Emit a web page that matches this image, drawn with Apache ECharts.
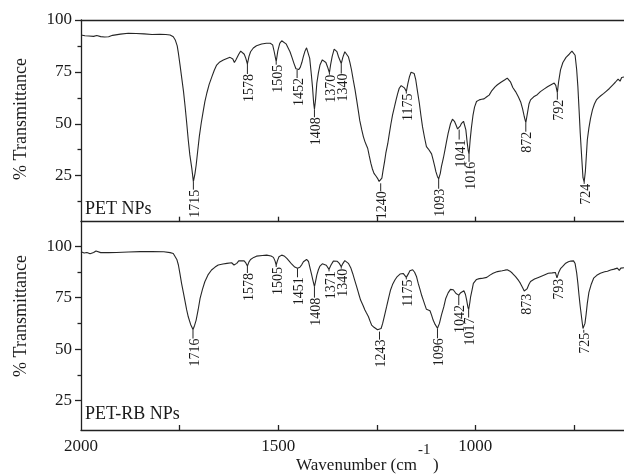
<!DOCTYPE html>
<html>
<head>
<meta charset="utf-8">
<script src="https://cdn.jsdelivr.net/npm/echarts@6/dist/echarts.min.js"></script>
<style>html,body{margin:0;padding:0;background:#fff}#c{width:624px;height:475px}</style>
</head>
<body>
<div id="c"></div>
<script>
// ---------- DATA ----------
const petWn = [2000,1990,1985,1980,1975,1968,1960,1950,1940,1930,1920,1900,1880,1860,1840,1820,1800,1785,1774,1766,1761,1756,1753,1749,1745,1740,1736,1732,1728,1724,1719,1715,1711,1708,1704,1700,1695,1691,1686,1681,1675,1668,1662,1656,1648,1639,1630,1622,1615,1611,1607,1600,1595,1590,1586,1582,1578,1574,1570,1563,1555,1542,1530,1520,1514,1510,1505,1501,1496,1491,1486,1480,1470,1465,1460,1455,1452,1448,1444,1440,1436,1432,1428,1424,1420,1416,1413,1410,1408,1405,1402,1398,1394,1388,1384,1379,1375,1370,1367,1363,1358,1355,1351,1347,1340,1336,1331,1326,1322,1318,1314,1310,1305,1301,1297,1293,1288,1284,1280,1276,1273,1269,1265,1261,1257,1252,1248,1244,1240,1237,1234,1230,1227,1222,1218,1214,1210,1205,1201,1197,1193,1188,1185,1180,1175,1171,1167,1163,1159,1155,1151,1147,1142,1138,1134,1129,1124,1119,1115,1111,1107,1103,1100,1096,1093,1089,1086,1081,1077,1073,1069,1063,1058,1053,1049,1045,1041,1038,1035,1030,1027,1024,1021,1018,1016,1013,1010,1006,1002,997,990,984,978,971,965,958,950,944,935,925,919,915,911,905,898,891,885,880,876,872,868,864,860,852,843,835,825,817,808,800,796,792,789,784,778,770,762,755,751,747,743,740,737,734,730,727,724,721,718,716,712,708,703,698,693,688,682,675,669,665,660,655,650,645,638,633,629,623];
const petT  = [92.8,92.4,92.9,92.3,92.7,92.1,92.5,92.0,91.8,91.9,92.6,93.2,93.6,93.5,93.3,93.0,93.1,93.0,92.8,91.9,90.4,87.5,84,78.5,72.7,65.5,58.3,50.5,42.2,35,28.5,22.1,26,30,37,43.8,50.5,55,60.5,64.7,69,72.7,75.8,78.3,79.8,80.7,81.4,82,81.2,79.5,80.8,83.5,85,84.8,83.5,81.5,78.8,82.5,84.7,86.5,87.6,88.4,88.8,88.8,88,84.7,79.9,85,88.7,90,89.6,88.5,84.7,82,79.1,76.5,75.9,76.1,77.2,79.5,82.5,85,86.6,86.3,81.5,74,67.9,60,57,62,69.5,74.5,78.3,80.8,81,79.5,77.5,74.6,78.5,82.5,86,86.4,84.8,82.3,79,82,84.7,84,82.3,79.5,75.9,71.5,66.3,61.5,56.6,51.5,47,43.8,41.4,39.5,38.2,34.5,31,28.2,26.1,24.8,23.7,22.2,21.3,23.8,27.5,32,35.8,40.5,45.4,50,54.2,58.2,61.5,64.5,67.1,68.4,68.7,67.3,65.5,69.5,72.7,74.8,75.6,74.2,71.1,66,59.9,54,48.6,43.5,39,37.8,37.4,35.5,32.6,29.5,26.9,24.5,23.5,26,29.3,33.5,37.4,41.5,45.4,50,52.2,51.2,49.4,47.5,47.2,49,50.2,51.2,50.5,47,41.5,37,35.5,42.5,48,54,58,60.7,61.5,61.8,62,63,63.8,66,67.8,68.8,70,71.2,72,71.5,70.2,67.5,65.5,63,60.5,57,53.5,50.5,55,59.5,61.5,63,64,65.5,66.8,67.8,68.8,69.6,68.5,65,70,76,79.5,82,83.5,85,85.3,83,76,68,57,45.6,33,24,22,27,36,42.3,48,52.5,56.7,59.5,61.5,62.5,63.5,64.5,65.5,65.4,67,67.8,69,70,71.5,70.5,72.3,72.5];

const rbWn = [2000,1992,1985,1977,1968,1962,1958,1950,1930,1910,1880,1850,1820,1790,1774,1766,1761,1757,1753,1749,1745,1740,1736,1732,1728,1722,1716,1712,1708,1703,1698,1692,1686,1678,1669,1660,1652,1640,1630,1618,1612,1605,1600,1595,1587,1582,1578,1574,1570,1562,1555,1540,1529,1518,1512,1508,1505,1502,1498,1491,1485,1478,1472,1466,1458,1451,1445,1440,1436,1428,1423,1419,1415,1412,1408,1405,1402,1398,1394,1388,1384,1378,1371,1366,1360,1356,1350,1345,1340,1336,1331,1326,1322,1316,1311,1306,1301,1296,1291,1285,1280,1276,1271,1267,1263,1257,1252,1248,1243,1239,1235,1230,1225,1220,1215,1210,1204,1198,1191,1183,1178,1175,1170,1166,1159,1154,1149,1145,1140,1136,1132,1128,1124,1120,1115,1111,1107,1102,1096,1091,1086,1080,1075,1069,1063,1059,1056,1049,1042,1038,1035,1029,1025,1022,1019,1017,1014,1012,1008,1005,997,990,984,971,963,955,944,932,925,919,912,906,898,890,886,880,876,873,869,864,860,850,840,835,825,815,805,797,793,789,784,779,772,764,758,751,747,743,740,737,734,730,727,725,722,719,716,712,706,700,692,683,672,665,657,648,640,635,631,623];
const rbT  = [97.2,96.6,96.9,96.3,96.9,97.6,96.7,96.8,96.8,96.9,97.1,97.3,97.3,97.2,96.8,96.4,95.6,93.5,90.8,86.5,81.9,77,73,69,65.7,62,59.5,61.5,64.1,69,74.6,79,82.7,86,88.4,89.8,90.8,91.3,91.6,91.9,90.8,91.6,92.8,93.5,92.9,91.8,90.3,92.3,93.5,94.5,95.1,95.4,95.6,95.2,94.5,92.8,90.8,92.8,94.8,95.6,95.2,94,92.7,91.3,89.8,89.2,89.7,91,92.4,93.5,92.5,89.2,86,83.5,80.3,83,85.9,88.5,90.3,91.4,91.6,90.7,88.7,90.8,92.7,93.4,92.6,91.6,90,91.5,92.9,92.6,91.6,89.5,86.7,83.5,80.3,77,73.8,71.3,69,67.5,65.7,63.6,61.7,60.6,60.1,59.4,58.5,60,62.5,66.5,70.6,74.8,78.7,81.3,83.5,85.2,86.4,86.7,86,84.8,86.5,88,88.5,87.3,85.1,82,78.7,76,73.8,71.5,69.3,68.8,68.6,66.5,64.1,62,60.1,62.5,66.5,70.5,74.6,77.3,79,79.3,78.8,77,76.2,77.2,77.9,78.3,76.5,73.8,70.5,69.2,72.5,75.4,79,81.9,83.8,84.2,84.3,84.8,85.9,86.8,87.6,88,88.3,88.5,87.8,86.8,85.2,83.2,82,79.8,78.2,77.4,79.2,81.5,82.8,84,84.8,85.2,86,86.8,87,87.2,84.6,87,89,90,91.5,92.4,92.7,92.8,91.5,87,82,76,70.7,64.5,60,59.4,62.5,67,72.3,77.5,81.5,84.4,85.8,86.8,87.5,87.8,88.4,88.8,89.3,88.2,89.3,89.5];

const petPeaks = [1715,1578,1505,1452,1408,1370,1340,1240,1175,1093,1041,1016,872,792,724];
const rbPeaks  = [1716,1578,1505,1451,1408,1371,1340,1243,1175,1096,1042,1017,873,793,725];

const xTicks = [750,1000,1250,1500,1750];
const xLabels = [1000,1500,2000];
const yTicks = [25,50,75,100];
const yMinorTop = [12.5,37.5,62.5,87.5];
const yMinorBottom = [37.5,62.5,87.5];

// ---------- STYLE (leader lengths in px, per peak) ----------
const petGaps = [8,10,3,8,8,2,10,8,2,10,10,8,9,7,2];
const rbGaps  = [9,7,2,9,11,2,2,8,2,10,10,8,1,1,3];

function valueAt(ws, ts, w) {
  for (let i = 0; i < ws.length - 1; i++) {
    if (ws[i] === w) return ts[i];
    if (ws[i] > w && ws[i + 1] < w) {
      const f = (ws[i] - w) / (ws[i] - ws[i + 1]);
      return ts[i] + f * (ts[i + 1] - ts[i]);
    }
  }
  return ts[ts.length - 1];
}

const FONT = 'Liberation Serif';
const INK = '#1a1a1a';
const LINE = '#262626';

const chart = echarts.init(document.getElementById('c'), null, {renderer: 'canvas'});

function peakData(peaks, ws, ts, gaps) {
  return peaks.map((w, i) => [w, valueAt(ws, ts, w), gaps[i]]);
}

function peakRender(params, api) {
  const w = api.value(0), t = api.value(1), gap = api.value(2);
  const p = api.coord([w, t]);
  const children = [];
  if (gap > 1) {
    children.push({type: 'line', shape: {x1: p[0], y1: p[1], x2: p[0], y2: p[1] + gap},
      style: {stroke: LINE, lineWidth: 1}});
  }
  children.push({type: 'text', x: p[0] + 2, y: p[1] + gap, rotation: Math.PI / 2,
    style: {text: String(w), font: '14px "' + FONT + '"', fill: INK, align: 'right', verticalAlign: 'middle'}});
  return {type: 'group', children: children};
}

const axisLineStyle = {color: '#222', width: 1.3};
const xBase = {type: 'value', min: 623, max: 2000, inverse: true, splitLine: {show: false}};
const plain = v => String(v);

const option = {
  animation: false,
  backgroundColor: '#fff',
  grid: [
    {left: 81, right: 0, top: 20, height: 201.7},
    {left: 81, right: 0, top: 221.7, height: 208.3}
  ],
  xAxis: [
    Object.assign({}, xBase, {gridIndex: 0, position: 'bottom',
      axisLine: {show: true, onZero: false, lineStyle: axisLineStyle},
      axisTick: {show: true, inside: true, length: 5, customValues: xTicks, lineStyle: axisLineStyle},
      axisLabel: {show: false}}),
    Object.assign({}, xBase, {gridIndex: 0, position: 'top',
      axisLine: {show: true, onZero: false, lineStyle: axisLineStyle},
      axisTick: {show: false}, axisLabel: {show: false}}),
    Object.assign({}, xBase, {gridIndex: 1, position: 'bottom',
      axisLine: {show: true, onZero: false, lineStyle: axisLineStyle},
      axisTick: {show: true, inside: true, length: 5, customValues: xTicks, lineStyle: axisLineStyle},
      axisLabel: {show: true, customValues: xLabels, formatter: plain, margin: 8, color: INK, fontFamily: FONT, fontSize: 17}})
  ],
  yAxis: [
    {type: 'value', gridIndex: 0, position: 'left', min: 2.8, max: 100, splitLine: {show: false},
      axisLine: {show: true, onZero: false, lineStyle: axisLineStyle},
      axisTick: {show: true, inside: false, length: 6, customValues: yTicks, lineStyle: axisLineStyle},
      axisLabel: {show: true, customValues: yTicks, formatter: plain, margin: 9, color: INK, fontFamily: FONT, fontSize: 17}},
    {type: 'value', gridIndex: 0, position: 'left', min: 2.8, max: 100, splitLine: {show: false},
      axisLine: {show: false},
      axisTick: {show: true, inside: false, length: 3.5, customValues: yMinorTop, lineStyle: axisLineStyle},
      axisLabel: {show: false}},
    {type: 'value', gridIndex: 1, position: 'left', min: 10.8, max: 111.8, splitLine: {show: false},
      axisLine: {show: true, onZero: false, lineStyle: axisLineStyle},
      axisTick: {show: true, inside: false, length: 6, customValues: yTicks, lineStyle: axisLineStyle},
      axisLabel: {show: true, customValues: yTicks, formatter: plain, margin: 9, color: INK, fontFamily: FONT, fontSize: 17}},
    {type: 'value', gridIndex: 1, position: 'left', min: 10.8, max: 111.8, splitLine: {show: false},
      axisLine: {show: false},
      axisTick: {show: true, inside: false, length: 3.5, customValues: yMinorBottom, lineStyle: axisLineStyle},
      axisLabel: {show: false}}
  ],
  series: [
    {type: 'line', xAxisIndex: 0, yAxisIndex: 0, showSymbol: false, symbol: 'none',
      lineStyle: {color: LINE, width: 1.1}, data: petWn.map((w, i) => [w, petT[i]])},
    {type: 'line', xAxisIndex: 2, yAxisIndex: 2, showSymbol: false, symbol: 'none',
      lineStyle: {color: LINE, width: 1.1}, data: rbWn.map((w, i) => [w, rbT[i]])},
    {type: 'custom', xAxisIndex: 0, yAxisIndex: 0, clip: false, renderItem: peakRender,
      data: peakData(petPeaks, petWn, petT, petGaps)},
    {type: 'custom', xAxisIndex: 2, yAxisIndex: 2, clip: false, renderItem: peakRender,
      data: peakData(rbPeaks, rbWn, rbT, rbGaps)}
  ],
  graphic: [
    {type: 'text', x: 21, y: 119, rotation: Math.PI / 2,
      style: {text: '% Transmittance', font: '18px "' + FONT + '"', fill: INK, align: 'center', verticalAlign: 'middle'}},
    {type: 'text', x: 21, y: 316, rotation: Math.PI / 2,
      style: {text: '% Transmittance', font: '18px "' + FONT + '"', fill: INK, align: 'center', verticalAlign: 'middle'}},
    {type: 'text', x: 85, y: 209,
      style: {text: 'PET NPs', font: '18px "' + FONT + '"', fill: INK, align: 'left', verticalAlign: 'middle'}},
    {type: 'text', x: 85, y: 414,
      style: {text: 'PET-RB NPs', font: '18px "' + FONT + '"', fill: INK, align: 'left', verticalAlign: 'middle'}},
    {type: 'text', x: 417, y: 466,
      style: {text: 'Wavenumber (cm', font: '17px "' + FONT + '"', fill: INK, align: 'right', verticalAlign: 'middle'}},
    {type: 'text', x: 418, y: 450,
      style: {text: '-1', font: '15px "' + FONT + '"', fill: INK, align: 'left', verticalAlign: 'middle'}},
    {type: 'text', x: 433, y: 466,
      style: {text: ')', font: '17px "' + FONT + '"', fill: INK, align: 'left', verticalAlign: 'middle'}}
  ]
};
chart.setOption(option);
</script>
</body>
</html>
